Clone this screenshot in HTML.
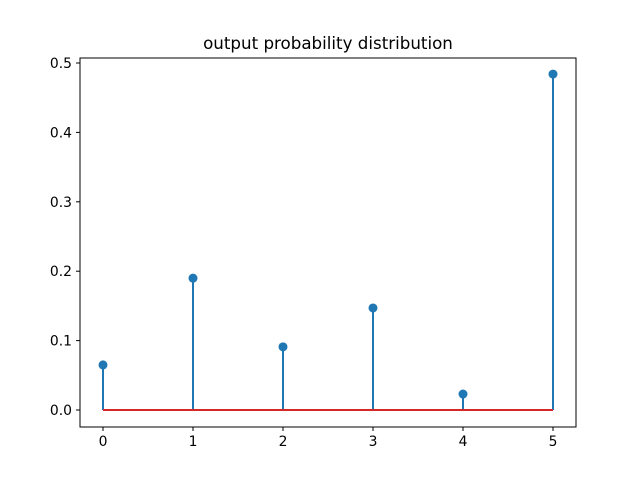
<!DOCTYPE html>
<html><head><meta charset="utf-8"><style>body{margin:0;background:#fff}svg{display:block;font-family:"DejaVu Sans","Liberation Sans",sans-serif}</style></head>
<body>
<svg id="chart" width="640" height="480">
<rect x="0" y="0" width="640" height="480" fill="#fff"/>
<text x="328" y="49" text-anchor="middle" font-size="16.7">output probability distribution</text>
<g id="ticks"></g>
<g id="marks"></g>
<rect x="80" y="58" width="496" height="369" fill="none" stroke="#000" stroke-width="1"/>
</svg>
<script>
const categories = [0, 1, 2, 3, 4, 5];
const probabilities = [0.065, 0.19, 0.091, 0.147, 0.023, 0.484];
const yTicks = [0.0, 0.1, 0.2, 0.3, 0.4, 0.5];
const yTickLabels = ["0.0", "0.1", "0.2", "0.3", "0.4", "0.5"];

const NS = "http://www.w3.org/2000/svg";
function xs(v){ return 103 + v * 90; }
function ys(v){ return 410 - v * 694; }
function mk(tag, attrs, parent){ const e = document.createElementNS(NS, tag); for (const k in attrs) e.setAttribute(k, attrs[k]); parent.appendChild(e); return e; }
const ticks = document.getElementById('ticks');
const marks = document.getElementById('marks');
categories.forEach(c => {
  const t = mk('line', {x1: xs(c), x2: xs(c), y1: 427, y2: 431, stroke: '#000'}, ticks);
  
  
  const l = mk('text', {x: xs(c), y: 446, 'text-anchor': 'middle', 'font-size': 13.9}, ticks);
  l.textContent = String(c);
  
  
});
yTicks.forEach((v, i) => {
  const t = mk('line', {x1: 76, x2: 80, y1: ys(v), y2: ys(v), stroke: '#000'}, ticks);
  
  
  const l = mk('text', {x: 72, y: ys(v) + 5, 'text-anchor': 'end', 'font-size': 13.9}, ticks);
  l.textContent = yTickLabels[i];
  
  
});
categories.forEach((c, i) => {
  const s = mk('line', {x1: xs(c), x2: xs(c), y1: ys(0), y2: ys(probabilities[i]), stroke: '#1f77b4', 'stroke-width': 2}, marks);
  
  
});
const base = mk('line', {x1: xs(categories[0]), x2: xs(categories[categories.length-1]), y1: ys(0), y2: ys(0), stroke: '#d62728', 'stroke-width': 2}, marks);


categories.forEach((c, i) => {
  const m = mk('circle', {cx: xs(c), cy: ys(probabilities[i]), r: 4.5, fill: '#1f77b4'}, marks);
  
  
});
</script>
</body></html>
